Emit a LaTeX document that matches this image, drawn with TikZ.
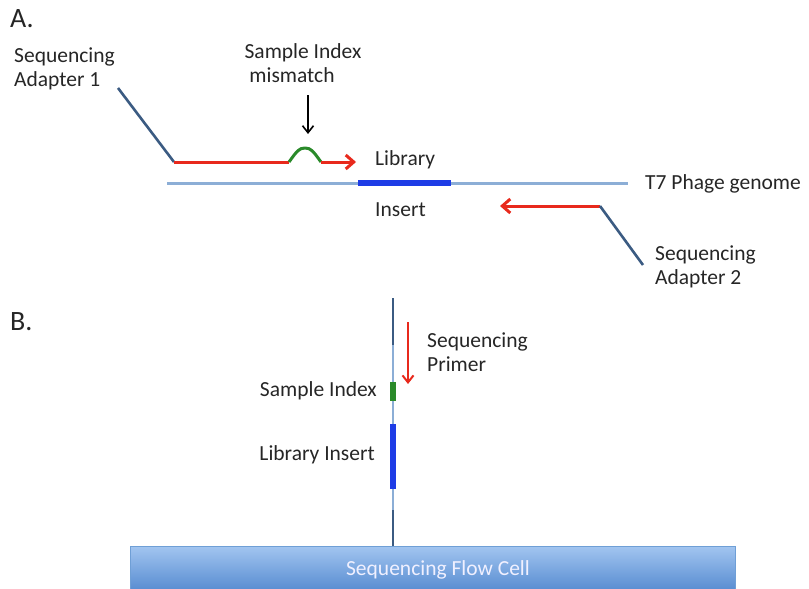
\documentclass[tikz,border=0pt]{standalone}
\usepackage{fontspec}
\setmainfont{Carlito}
\usetikzlibrary{arrows.meta}
\definecolor{adapter}{HTML}{3B5B82}
\definecolor{genome}{HTML}{8CAED6}
\definecolor{insertblue}{HTML}{1E3CE6}
\definecolor{primerred}{HTML}{E8291C}
\definecolor{indexgreen}{HTML}{2A8A2A}
\definecolor{celltop}{HTML}{A2C5F0}
\definecolor{cellbot}{HTML}{5A8ED2}
\definecolor{celledge}{HTML}{6F9FD6}
\tikzset{
  lbl/.style={font=\fontsize{21.5}{24.5}\selectfont, text=black!85, inner sep=0pt, align=left},
  panel/.style={font=\fontsize{28}{30}\selectfont, text=black!85, inner sep=0pt},
  adapterline/.style={draw=adapter, line width=2.6pt},
  genomeline/.style={draw=genome, line width=3pt},
  insertline/.style={draw=insertblue, line width=6pt},
  redarrow/.style={draw=primerred, line width=3pt, -{Straight Barb[length=8pt,width=14pt,line width=3pt]}},
  redline/.style={draw=primerred, line width=3pt},
  greenline/.style={draw=indexgreen, line width=3pt},
}
\begin{document}
\begin{tikzpicture}[x=1pt,y=-1pt]
\useasboundingbox (0,0) rectangle (809,589);
% Panel A
\node[panel, anchor=west] (A) at (10,19) {A.};
\node[lbl, anchor=west] (ad1) at (14,69) {Sequencing\\Adapter 1};
\node[lbl, anchor=center] (smi) at (303,63) {Sample Index\\\ mismatch};
\coordinate (a1s) at (118,88);
\coordinate (a1e) at (174,162);
\coordinate (b1) at (289,162);
\coordinate (bp) at (305,148);
\coordinate (b2) at (321,162);
\coordinate (r1e) at (356,162);
\draw[adapterline] (a1s) -- (a1e);
\draw[redline] (a1e) -- (b1);
\draw[greenline, line join=round] (b1) .. controls (297,151) and (299,148) .. (bp) .. controls (311,148) and (313,151) .. (b2);
\draw[redarrow] (b2) -- (r1e);
\coordinate (mk1) at (308,95);
\coordinate (mk2) at (308,134);
\draw[black, line width=1.6pt, -{Straight Barb[length=7pt,width=11pt,line width=1.6pt]}] (mk1) -- (mk2);
\node[lbl, anchor=west] (lib) at (375,160) {Library};
\node[lbl, anchor=west] (ins) at (375,210) {Insert};
\coordinate (g1) at (167,183);
\coordinate (g2) at (628,183);
\coordinate (i1) at (358,183);
\coordinate (i2) at (451,183);
\draw[genomeline] (g1) -- (g2);
\draw[insertline] (i1) -- (i2);
\node[lbl, anchor=west] (t7) at (645,184) {T7 Phage genome};
\coordinate (r2s) at (600,206);
\coordinate (r2e) at (500,206);
\coordinate (a2e) at (643,265);
\draw[redarrow] (r2s) -- (r2e);
\draw[adapterline] (r2s) -- (a2e);
\node[lbl, anchor=west] (ad2) at (655,267) {Sequencing\\Adapter 2};
% Panel B
\node[panel, anchor=west] (B) at (10,322) {B.};
\coordinate (v0) at (393,298);
\coordinate (v1) at (393,345);
\coordinate (vg1) at (393,382);
\coordinate (vg2) at (393,401);
\coordinate (vb1) at (393,424);
\coordinate (vb2) at (393,489);
\coordinate (v2) at (393,510);
\coordinate (v3) at (393,546);
\draw[genome, line width=2pt] (v0) -- (v3);
\draw[adapter, line width=2pt] (v0) -- (v1);
\draw[adapter, line width=2pt] (v2) -- (v3);
\draw[indexgreen, line width=6pt] (vg1) -- (vg2);
\draw[insertblue, line width=6pt] (vb1) -- (vb2);
\coordinate (p1) at (408,322);
\coordinate (p2) at (408,384);
\draw[primerred, line width=2pt, -{Straight Barb[length=7pt,width=11pt,line width=2pt]}] (p1) -- (p2);
\node[lbl, anchor=west] (prim) at (427,352) {Sequencing\\Primer};
\node[lbl, anchor=east] (si) at (377,391) {Sample Index};
\node[lbl, anchor=east] (li) at (375,455) {Library Insert};
% Flow cell
\shade[top color=celltop, bottom color=cellbot, draw=celledge, line width=0.8pt] (130,546) rectangle (735,589);
\node[font=\fontsize{21.5}{24}\selectfont, text=white!94!blue, inner sep=0pt] (fc) at (438,570) {Sequencing Flow Cell};
\end{tikzpicture}
\end{document}
